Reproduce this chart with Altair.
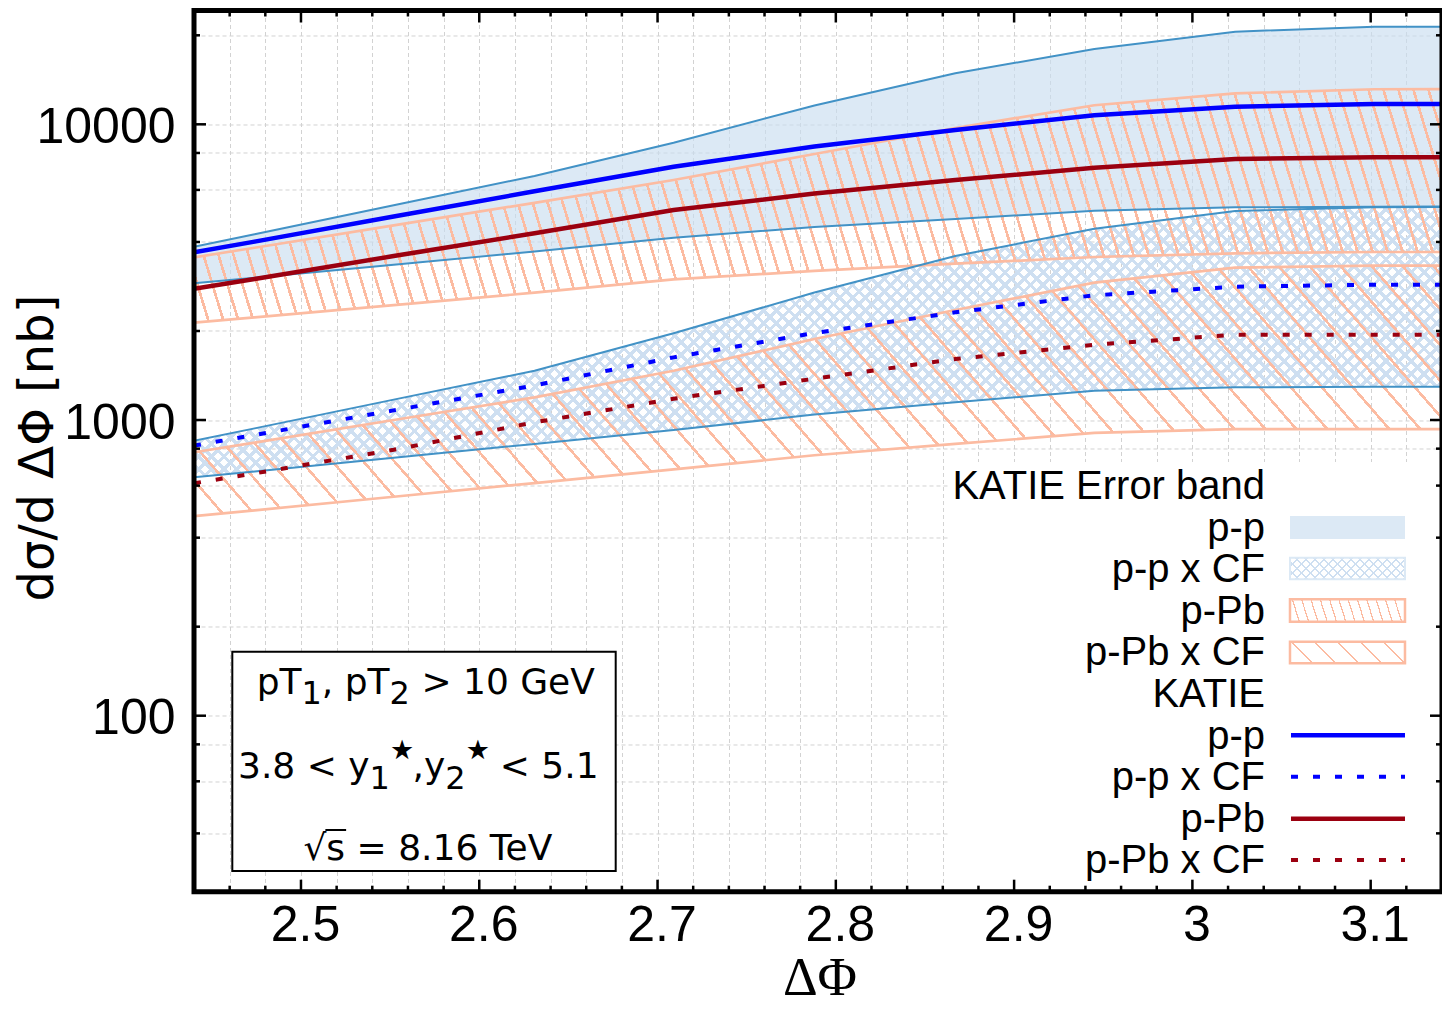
import math
import altair as alt
import pandas as pd

# ---------------- data ----------------
DPHI = [2.44, 2.474, 2.552, 2.631, 2.709, 2.788, 2.867, 2.945, 3.024, 3.102, 3.14]
PP_UP = [3855, 4250, 5325, 6687, 8666, 11580, 14880, 17970, 20570, 21390, 21390]
PP_C = [3690, 4010, 4875, 5935, 7185, 8415, 9570, 10730, 11470, 11710, 11710]
PP_LO = [2900, 3028, 3352, 3712, 4135, 4495, 4783, 5103, 5240, 5264, 5270]
PPCF_UP = [851, 937, 1172, 1468, 1964, 2699, 3586, 4436, 5091, 5240, 5252]
PPCF_C = [819, 890, 1078, 1309, 1629, 1969, 2313, 2641, 2824, 2868, 2868]
PPCF_LO = [640, 670, 746, 830, 925, 1043, 1148, 1256, 1290, 1296, 1296]
PPB_UP = [3550, 3825, 4554, 5426, 6480, 7937, 9720, 11600, 12730, 13140, 13160]
PPB_C = [2780, 3000, 3584, 4283, 5131, 5834, 6480, 7131, 7634, 7735, 7735]
PPB_LO = [2134, 2223, 2448, 2695, 2991, 3193, 3377, 3558, 3663, 3700, 3700]
PPBCF_UP = [778, 839, 1000, 1193, 1468, 1879, 2355, 2913, 3274, 3325, 3325]
PPBCF_C = [611, 660, 793, 982, 1180, 1379, 1608, 1797, 1943, 1943, 1943]
PPBCF_LO = [473, 495, 550, 612, 681, 760, 830, 904, 932, 932, 932]

X_MAJOR = [2.5, 2.6, 2.7, 2.8, 2.9, 3.0, 3.1]
X_GRID = [round(2.44 + 0.02 * i, 2) for i in range(36)]
X_MINOR = [v for v in X_GRID if v not in X_MAJOR and 2.44 < v < 3.14]
Y_MAJOR = [100, 1000, 10000]
Y_MINOR = [40, 60, 80, 200, 400, 600, 800, 2000, 4000, 6000, 8000, 20000]
Y_GRID = sorted(Y_MAJOR + Y_MINOR)

LEG_LABELS = ["KATIE Error band", "p-p", "p-p x CF", "p-Pb", "p-Pb x CF",
              "KATIE", "p-p", "p-p x CF", "p-Pb", "p-Pb x CF"]

# ---------------- layout / style ----------------
PAD_L, PAD_T = 186.0, 2.5
PL, PT = 8 + PAD_L, 8 + PAD_T          # page position of the plot origin
W = 1248.0
H = 881.2
XMIN, XMAX = 2.44, 3.14
YBOT, YTOP = 25.4, 24260.0


def px(page_x):
    return page_x - PL


def py(page_y):
    return page_y - PT


PP_FILL = "#c9ddf0"
BLUE_EDGE = "#4292c6"
PINK = "#fcbba1"
PINK_RGB = (252, 187, 161)
XH_RGB = (206, 223, 241)
BLUE_LINE = "#0000ff"
RED_LINE = "#9b0010"
GRID = "#d2d2d2"

XS = alt.Scale(domain=[XMIN, XMAX], nice=False, zero=False)
YS = alt.Scale(type="log", domain=[YBOT, YTOP], nice=False)

X_AXIS = alt.Axis(values=X_GRID, title=None, grid=True, gridColor=GRID, gridDash=[4, 3],
                  gridWidth=1, domain=False, ticks=False, tickSize=0,
                  labelFont="Liberation Sans", labelFontSize=50, labelColor="black",
                  labelPadding=9, labelOffset=4, labelFlush=False, labelOverlap=False,
                  format="~g",
                  labelExpr="abs(datum.value*10 - round(datum.value*10)) < 0.001 ? datum.label : ''")
Y_AXIS = alt.Axis(values=Y_GRID, title=None, grid=True, gridColor=GRID, gridDash=[4, 3],
                  gridWidth=1, domain=False, ticks=False, tickSize=0,
                  labelFont="Liberation Sans", labelFontSize=50, labelColor="black",
                  labelPadding=19, labelOffset=3, labelFlush=False, labelOverlap=False,
                  labelExpr="(datum.value == 100 || datum.value == 1000 || datum.value == 10000) ? format(datum.value, 'd') : ''")


def ypx(v):
    return H * (math.log10(YTOP) - math.log10(v)) / (math.log10(YTOP) - math.log10(YBOT))


def hatch(wb, hb, slope, spacing, thick, rgb, phase=0.0):
    """Striped linear gradient (bounding-box units) that draws hatch lines."""
    r, g, b = rgb
    col = f"rgba({r},{g},{b},1)"
    clr = f"rgba({r},{g},{b},0)"
    k = hb / slope
    if slope > 0:
        cmin, cmax = -k, wb
        p1 = (0.0, 1.0)
    else:
        cmin, cmax = 0.0, wb - k
        p1 = (0.0, 0.0)
    rng = cmax - cmin
    lam = rng / (wb * wb + k * k)
    p2 = (p1[0] + lam * wb, p1[1] - lam * k)
    stops = []
    c = cmin + phase
    while c - thick / 2 < cmax:
        a = min(1.0, max(0.0, (c - thick / 2 - cmin) / rng))
        e = min(1.0, max(0.0, (c + thick / 2 - cmin) / rng))
        if e > a:
            stops += [(a, clr), (a, col), (e, col), (e, clr)]
        c += spacing
    return alt.LinearGradient(
        gradient="linear",
        stops=[alt.GradientStop(offset=round(o, 5), color=cc) for o, cc in stops],
        x1=round(p1[0], 5), y1=round(p1[1], 5), x2=round(p2[0], 5), y2=round(p2[1], 5))


df = pd.DataFrame({
    "dphi": DPHI, "pp_up": PP_UP, "pp_c": PP_C, "pp_lo": PP_LO,
    "ppcf_up": PPCF_UP, "ppcf_c": PPCF_C, "ppcf_lo": PPCF_LO,
    "ppb_up": PPB_UP, "ppb_c": PPB_C, "ppb_lo": PPB_LO,
    "ppbcf_up": PPBCF_UP, "ppbcf_c": PPBCF_C, "ppbcf_lo": PPBCF_LO,
})
ONE = pd.DataFrame({"k": [0]})


def xenc():
    return alt.X("dphi:Q", scale=XS, axis=X_AXIS)


def yenc(f):
    return alt.Y(f"{f}:Q", scale=YS, axis=Y_AXIS)


def band(up, lo, **mk):
    return alt.Chart(df).mark_area(clip=True, **mk).encode(
        x=xenc(), y=yenc(up), y2=alt.Y2(f"{lo}:Q"))


def curve(f, **mk):
    return alt.Chart(df).mark_line(clip=True, **mk).encode(x=xenc(), y=yenc(f))


layers = []

# error bands
layers.append(band("pp_up", "pp_lo", color=PP_FILL, opacity=0.65))

h_ppcf = ypx(min(PPCF_LO)) - ypx(max(PPCF_UP))
layers.append(band("ppcf_up", "ppcf_lo", fill=hatch(W, h_ppcf, 1.0, 12.7, 4.6, XH_RGB)))
layers.append(band("ppcf_up", "ppcf_lo", fill=hatch(W, h_ppcf, -1.0, 12.7, 4.6, XH_RGB)))

h_ppb = ypx(min(PPB_LO)) - ypx(max(PPB_UP))
layers.append(band("ppb_up", "ppb_lo", fill=hatch(W, h_ppb, 3.3, 15.0, 2.8, PINK_RGB)))

h_ppbcf = ypx(min(PPBCF_LO)) - ypx(max(PPBCF_UP))
layers.append(band("ppbcf_up", "ppbcf_lo", fill=hatch(W, h_ppbcf, 1.15, 31.0, 3.5, PINK_RGB)))

# band edges
for f in ["ppb_up", "ppb_lo", "ppbcf_up", "ppbcf_lo"]:
    layers.append(curve(f, color=PINK, strokeWidth=2.7))
for f in ["pp_up", "pp_lo", "ppcf_up", "ppcf_lo"]:
    layers.append(curve(f, color=BLUE_EDGE, strokeWidth=2.0))

# central predictions
layers.append(curve("pp_c", color=BLUE_LINE, strokeWidth=4.5))
layers.append(curve("ppcf_c", color=BLUE_LINE, strokeWidth=4.0, strokeDash=[7, 15]))
layers.append(curve("ppb_c", color=RED_LINE, strokeWidth=4.5))
layers.append(curve("ppbcf_c", color=RED_LINE, strokeWidth=4.0, strokeDash=[7, 15]))


def rect(x, x2, y, y2, **mk):
    return alt.Chart(ONE).mark_rect(**mk).encode(
        x=alt.value(x), x2=alt.value(x2), y=alt.value(y), y2=alt.value(y2))


def hrule(x, x2, y, **mk):
    return alt.Chart(ONE).mark_rule(**mk).encode(x=alt.value(x), x2=alt.value(x2), y=alt.value(y))


def txt(s, x, y, size, font="Liberation Sans", align="left", angle=0):
    return alt.Chart(ONE).mark_text(text=s, font=font, fontSize=size, align=align,
                                    baseline="alphabetic", angle=angle, color="black").encode(
        x=alt.value(x), y=alt.value(y))


# ---------------- legend ----------------
layers.append(rect(px(950), W, py(462), py(886), fill="white"))
LEG_BASE = [499.3, 540.9, 582.4, 624.0, 665.5, 707.1, 748.7, 790.2, 831.8, 873.3]
for lab, yb in zip(LEG_LABELS, LEG_BASE):
    layers.append(txt(lab, px(1265), py(yb), 40, align="right"))

SW_X0, SW_X1 = px(1290), px(1405)
SW_W = SW_X1 - SW_X0
layers.append(rect(SW_X0, SW_X1, py(516), py(539), fill="#dce9f5"))
sh = 579.3 - 557.7
layers.append(rect(SW_X0, SW_X1, py(557.7), py(579.3), fill=hatch(SW_W, sh, 1.0, 9.0, 1.5, XH_RGB)))
layers.append(rect(SW_X0, SW_X1, py(557.7), py(579.3), fill=hatch(SW_W, sh, -1.0, 9.0, 1.5, XH_RGB),
                   stroke="#dce9f5", strokeWidth=2))
sh = 621.7 - 599.3
layers.append(rect(SW_X0, SW_X1, py(599.3), py(621.7), fill=hatch(SW_W, sh, 3.2, 9.3, 1.3, PINK_RGB),
                   stroke=PINK, strokeWidth=2.5))
sh = 663.3 - 641.7
layers.append(rect(SW_X0, SW_X1, py(641.7), py(663.3), fill=hatch(SW_W, sh, 1.0, 23.0, 1.5, PINK_RGB),
                   stroke=PINK, strokeWidth=2.5))
layers.append(hrule(px(1291), px(1405), py(735.3), color=BLUE_LINE, strokeWidth=4.5))
layers.append(hrule(px(1291), px(1405), py(776.7), color=BLUE_LINE, strokeWidth=4.0, strokeDash=[7, 15]))
layers.append(hrule(px(1291), px(1405), py(818.7), color=RED_LINE, strokeWidth=4.5))
layers.append(hrule(px(1291), px(1405), py(860.0), color=RED_LINE, strokeWidth=4.0, strokeDash=[7, 15]))

# ---------------- inset box ----------------
layers.append(rect(px(232.3), px(615.7), py(651.7), py(871.0), fill="white", stroke="black", strokeWidth=2))

DV = {'p': 0.635, 'T': 0.611, ',': 0.318, ' ': 0.318, '>': 0.838, '<': 0.838, '.': 0.318,
      'G': 0.775, 'e': 0.615, 'V': 0.684, 'y': 0.592, '=': 0.838, 's': 0.521,
      '\u221a': 0.636, '\u2605': 0.838}


def wid(t):
    return sum(DV.get(ch, 0.636) for ch in t)


def rich(segs, center, base):
    total = sum(wid(t) * sz for t, sz, dy in segs)
    x = center - total / 2
    out = []
    for t, sz, dy in segs:
        lead = len(t) - len(t.lstrip(' '))
        out.append((t.strip(' '), x + lead * DV[' '] * sz, base + dy, sz))
        x += wid(t) * sz
    return out


INSET = [
    ([("pT", 36, 0), ("1", 32, 10), (", pT", 36, 0), ("2", 32, 10), (" > 10 GeV", 36, 0)],
     px(425.8), py(694.0)),
    ([("3.8 < y", 36, 0), ("1", 32, 11), ("\u2605", 27, -19), (",y", 36, 0), ("2", 32, 11),
      ("\u2605", 27, -19), (" < 5.1", 36, 0)], px(418.3), py(778.3)),
    ([("\u221a", 36, 0), ("s", 36, 0), (" = 8.16 TeV", 36, 0)], px(431.0), py(860.0)),
]
for segs, cx, base in INSET:
    pieces = rich(segs, cx, base)
    for t, x, y, sz in pieces:
        layers.append(txt(t, x, y, sz, font="DejaVu Sans"))
    if segs[1][0] == "s":
        sx = pieces[1][1]
        layers.append(hrule(sx - 1, sx + DV['s'] * 36 + 1, base - 30, color="black", strokeWidth=2))


# ---------------- ticks (inward) and frame ----------------
def xticks(vals, length, top):
    d = pd.DataFrame({"t": vals})
    y0, y1 = (0, length) if top else (H, H - length)
    return alt.Chart(d).mark_rule(color="black", strokeWidth=2.5).encode(
        x=alt.X("t:Q", scale=XS, axis=X_AXIS), y=alt.value(y0), y2=alt.value(y1))


def yticks(vals, length, right):
    d = pd.DataFrame({"t": vals})
    x0, x1 = (W - length, W) if right else (0, length)
    return alt.Chart(d).mark_rule(color="black", strokeWidth=2.5).encode(
        y=alt.Y("t:Q", scale=YS, axis=Y_AXIS), x=alt.value(x0), x2=alt.value(x1))


for top in (False, True):
    layers.append(xticks(X_MAJOR, 12, top))
    layers.append(xticks(X_MINOR, 6, top))
for right in (False, True):
    layers.append(yticks(Y_MAJOR, 12, right))
    layers.append(yticks(Y_MINOR, 6, right))

layers.append(rect(0, W, 0, H, fillOpacity=0, stroke="black", strokeWidth=5))

# ---------------- axis titles ----------------
layers.append(txt("d\u03c3/d \u0394\u03a6 [nb]", px(53), py(448), 48, font="DejaVu Sans",
                  align="center", angle=270))
layers.append(txt("\u0394\u03a6", px(820), 985, 54, font="Liberation Serif", align="center"))

chart = alt.layer(*layers).properties(
    width=W, height=H,
    padding={"left": PAD_L, "top": PAD_T, "right": 0, "bottom": 116},
    autosize=alt.AutoSizeParams(type="none"),
    background="white",
).configure_view(stroke=None)

chart.save("out.html", embed_options={"renderer": "svg", "actions": False})
